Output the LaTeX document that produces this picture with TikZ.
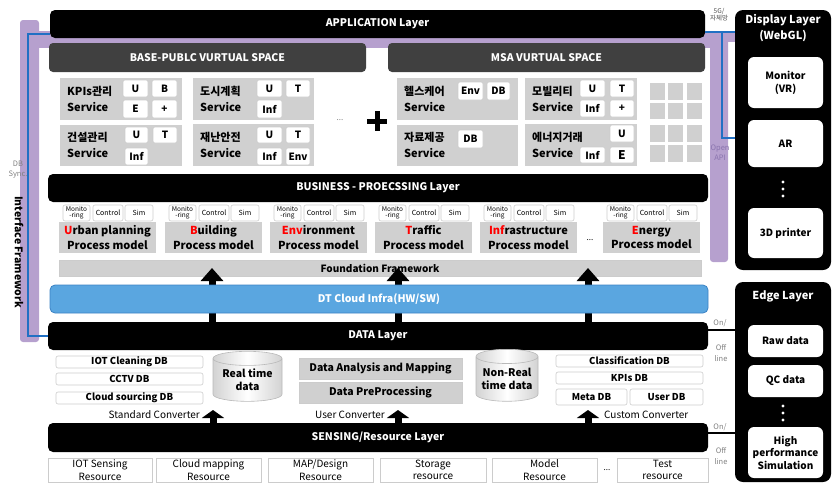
\documentclass[tikz,border=0pt]{standalone}
\usepackage{fontspec}
\setmainfont{Noto Sans CJK KR}
\usetikzlibrary{shapes.geometric,arrows.meta}

\definecolor{purp}{HTML}{B6A0CE}
\definecolor{hdr}{HTML}{404040}
\definecolor{lgrey}{HTML}{D0D0D0}
\definecolor{tagline}{HTML}{CCCCCC}
\definecolor{linkblue}{HTML}{2070C4}
\definecolor{cloudfill}{HTML}{5AA6E0}
\definecolor{cloudline}{HTML}{3B82C4}
\definecolor{apitext}{HTML}{8A74AE}

% box from (x1,y1) to (x2,y2), y grows downwards
\newcommand\bx[7][]{\node[inner sep=0pt, outer sep=0pt, anchor=north west,
  minimum width={(#4)-(#2)}, minimum height={(#5)-(#3)}, #1] (#6) at (#2,#3) {#7};}

\tikzset{
  layer/.style={fill=black, rounded corners=5pt, text=white, font=\bfseries\fontsize{10.5}{12}\selectfont},
  header/.style={fill=hdr, rounded corners=4pt, text=white, font=\bfseries\fontsize{10.5}{12}\selectfont},
  svc/.style={fill=lgrey},
  tag/.style={fill=white, draw=tagline, line width=0.6pt, rounded corners=2pt, font=\bfseries\fontsize{10}{11}\selectfont},
  svctext/.style={anchor=west, align=left, inner sep=0pt, font=\bfseries\fontsize{11}{16}\selectfont},
  ptag/.style={fill=white, draw=tagline, line width=0.6pt, rounded corners=2pt, font=\fontsize{6.5}{6}\selectfont, align=center},
  proc/.style={fill=lgrey, font=\bfseries\fontsize{11}{14.5}\selectfont, align=center},
  greybar/.style={fill=lgrey, draw=tagline, line width=0.6pt, font=\bfseries\fontsize{10}{12}\selectfont},
  dbbox/.style={fill=white, draw=tagline, line width=0.6pt, rounded corners=2pt, font=\bfseries\fontsize{9.5}{11}\selectfont},
  res/.style={fill=white, draw=tagline, line width=0.6pt, font=\fontsize{10}{12.5}\selectfont, align=center},
  sidebox/.style={fill=black, rounded corners=8pt},
  whitebox/.style={fill=white, rounded corners=6pt, font=\bfseries\fontsize{10}{13}\selectfont, align=center},
  store/.style={cylinder, shape border rotate=90, aspect=0.28, draw=gray!55, line width=0.6pt,
    left color=gray!35, right color=gray!35, middle color=white, inner sep=0pt,
    font=\bfseries\fontsize{10.5}{13}\selectfont, align=center},
  uparrow/.style={line width=7pt, -{Triangle[width=22pt,length=13pt]}},
  convarrow/.style={line width=7pt, -{Triangle[width=22pt,length=8pt]}},
  link/.style={draw=linkblue, line width=2pt},
  note/.style={font=\fontsize{7.5}{8.5}\selectfont, text=gray, align=center, inner sep=0pt},
  conv/.style={font=\fontsize{10}{12}\selectfont, inner sep=0pt},
}

\begin{document}
\begin{tikzpicture}[x=1pt,y=-1pt]
\useasboundingbox (0,0) rectangle (832,483);

% interface framework band (left, top and right)
\fill[purp, rounded corners=3pt] (20,20) rectangle (39,342);
\fill[purp] (20,31) rectangle (728,48);
\fill[purp, rounded corners=3pt] (710,31) rectangle (728,262);
\fill[purp] (710,32) rectangle (735,42);

% application layer and virtual spaces
\bx[layer]{50}{10}{705}{38}{app}{APPLICATION Layer}
\bx[header]{49}{43}{366}{72}{basehdr}{BASE-PUBLC VURTUAL SPACE}
\bx[header]{388}{43}{705}{72}{msahdr}{MSA VURTUAL SPACE}

% base-public services
\bx[svc]{60}{78}{182}{120}{kpi}{}
\node[svctext] (kpit) at (67,99) {KPIs관리\\Service};
\bx[tag]{123}{80}{148}{97}{kpiU}{U}
\bx[tag]{152}{80}{177}{97}{kpiB}{B}
\bx[tag]{123}{100}{148}{118}{kpiE}{E}
\bx[tag]{152}{100}{177}{118}{kpiP}{+}

\bx[svc]{60}{125}{182}{166}{con}{}
\node[svctext] (cont) at (67,145) {건설관리\\Service};
\bx[tag]{125}{127}{148}{143}{conU}{U}
\bx[tag]{153}{127}{177}{143}{conT}{T}
\bx[tag]{125}{148}{148}{165}{conI}{Inf}

\bx[svc]{193}{78}{314}{120}{urb}{}
\node[svctext] (urbt) at (200,99) {도시계획\\Service};
\bx[tag]{257}{80}{282}{97}{urbU}{U}
\bx[tag]{286}{80}{310}{97}{urbT}{T}
\bx[tag]{257}{100}{282}{118}{urbI}{Inf}

\bx[svc]{193}{124}{314}{166}{dis}{}
\node[svctext] (dist) at (200,145) {재난안전\\Service};
\bx[tag]{257}{127}{282}{143}{disU}{U}
\bx[tag]{286}{127}{310}{143}{disT}{T}
\bx[tag]{257}{148}{282}{165}{disI}{Inf}
\bx[tag]{286}{148}{310}{165}{disE}{Env}

\node[font=\fontsize{8}{8}\selectfont, text=gray] (svcdots) at (340,120) {...};
\fill (367,118.5) rectangle (387,123.5);
\fill (374.5,111) rectangle (379.5,131);

% MSA services
\bx[svc]{397}{78}{518}{120}{hea}{}
\node[svctext] (heat) at (404,99) {헬스케어\\Service};
\bx[tag]{458}{82}{483}{100}{heaE}{Env}
\bx[tag]{487}{82}{510}{100}{heaD}{DB}

\bx[svc]{397}{125}{518}{166}{dat}{}
\node[svctext] (datt) at (404,145) {자료제공\\Service};
\bx[tag]{458}{130}{483}{148}{datD}{DB}

\bx[svc]{525}{78}{637}{120}{mob}{}
\node[svctext] (mobt) at (532,99) {모빌리티\\Service};
\bx[tag]{580}{80}{605}{97}{mobU}{U}
\bx[tag]{610}{80}{634}{97}{mobT}{T}
\bx[tag]{580}{100}{605}{117}{mobI}{Inf}
\bx[tag]{610}{100}{634}{117}{mobP}{+}

\bx[svc]{525}{124}{637}{166}{ene}{}
\node[svctext] (enet) at (532,145) {에너지거래\\Service};
\bx[tag]{610}{125}{634}{142}{eneU}{U}
\bx[tag]{580}{147}{605}{163}{eneI}{Inf}
\bx[tag, font=\bfseries\fontsize{12}{12}\selectfont]{610}{147}{634}{163}{eneE}{E}

\foreach \gx in {650,668,687}
  \foreach \gy/\gh in {83/17,103/16,125/17,145/17}
    \fill[lgrey] (\gx,\gy) rectangle ++(15,\gh);

% business processing layer
\bx[layer]{48}{174}{708}{202}{biz}{BUSINESS - PROECSSING Layer}
\foreach \px/\pn/\pt in {59/urban/{\textcolor{red}{U}rban planning},
                         165/build/{\textcolor{red}{B}uilding},
                         270/envi/{\textcolor{red}{Env}ironment},
                         375/traf/{\textcolor{red}{T}raffic},
                         480/infra/{\textcolor{red}{Inf}rastructure},
                         603/energy/{\textcolor{red}{E}nergy}}{
  \bx[ptag]{\px+4}{205}{\px+31}{221}{\pn-mon}{Monito\\-ring}
  \bx[ptag, font=\fontsize{7}{8}\selectfont]{\px+34}{205}{\px+64}{221}{\pn-ctl}{Control}
  \bx[ptag, font=\fontsize{7}{8}\selectfont]{\px+66}{205}{\px+94}{221}{\pn-sim}{Sim}
  \bx[proc]{\px}{222}{\px+97}{253}{\pn}{\pt\\Process model}
}
\node[font=\fontsize{8}{8}\selectfont] (procdots) at (590,240) {...};

\bx[greybar]{59}{260}{701}{276}{found}{Foundation Framework}

% data layer feeds the foundation through the cloud infrastructure
\bx[layer]{48}{322}{708}{350}{dataL}{DATA Layer}
\foreach \ax in {212,398,588}
  \draw[uparrow] (dataL.north -| \ax,0) -- (found.center -| \ax,0);
\bx[fill=cloudfill, draw=cloudline, line width=0.8pt, rounded corners=5pt, text=white,
    font=\bfseries\fontsize{10.5}{12}\selectfont]{50}{285}{708}{313}{dt}{DT Cloud Infra(HW/SW)}

% interface framework links
\draw[link] (app.west |- 0,34) -- (28,34) -- (28,336) -- (dataL.west |- 0,336);

% data stores
\bx[dbbox]{56}{356}{203}{368}{iotdb}{IOT Cleaning DB}
\bx[dbbox]{56}{373}{203}{385}{cctvdb}{CCTV DB}
\bx[dbbox]{56}{392}{203}{404}{clouddb}{Cloud sourcing DB}
\node[store, minimum width=69, minimum height=50] (rt) at (247.5,380) {Real time\\data};
\bx[greybar, font=\bfseries\fontsize{10.5}{12}\selectfont]{299}{358}{462}{379}{ana}{Data Analysis and Mapping}
\bx[greybar, font=\bfseries\fontsize{10.5}{12}\selectfont]{299}{382}{462}{403}{pre}{Data PreProcessing}
\node[store, minimum width=62, minimum height=52] (nrt) at (507,379) {Non-Real\\time data};
\bx[dbbox]{556}{355}{703}{367}{clsdb}{Classification DB}
\bx[dbbox]{556}{372}{703}{384}{kpidb}{KPIs DB}
\bx[dbbox]{556}{389}{627}{405}{metadb}{Meta DB}
\bx[dbbox]{630}{389}{703}{405}{userdb}{User DB}

% sensing layer and converters
\bx[layer]{48}{423}{708}{452}{sens}{SENSING/Resource Layer}
\foreach \ax in {213,398,588}
  \draw[convarrow] (sens.north -| \ax,0) -- (\ax,410);
\node[conv, anchor=east] (stdconv) at (200,415) {Standard Converter};
\node[conv, anchor=east] (usrconv) at (385,415) {User Converter};
\node[conv, anchor=west] (cusconv) at (604,415) {Custom Converter};

% resources
\bx[res]{48}{458}{152}{482}{r1}{IOT Sensing\\Resource}
\bx[res]{156}{458}{261}{482}{r2}{Cloud mapping\\Resource}
\bx[res]{268}{458}{373}{482}{r3}{MAP/Design\\Resource}
\bx[res]{380}{458}{486}{482}{r4}{Storage\\resource}
\bx[res]{492}{458}{597}{482}{r5}{Model\\Resource}
\node[font=\fontsize{8}{8}\selectfont] (resdots) at (607,470) {...};
\bx[res]{617}{458}{708}{482}{r6}{Test\\resource}

% display layer
\bx[sidebox]{735}{10}{831}{270}{disp}{}
\node[text=white, font=\bfseries\fontsize{11}{16}\selectfont, align=center] (disptitle) at (783,28.5) {Display Layer\\(WebGL)};
\bx[whitebox]{748}{57}{823}{108}{mon}{Monitor\\(VR)}
\bx[whitebox]{748}{120}{823}{167}{ar}{AR}
\foreach \dy in {182,189,196} \fill[white] (783,\dy) circle (1.6);
\bx[whitebox]{748}{208}{823}{258}{printer}{3D printer}

% edge layer
\bx[sidebox]{735}{282}{831}{482}{edge}{}
\node[text=white, font=\bfseries\fontsize{11}{13}\selectfont] (edgetitle) at (783,296) {Edge Layer};
\bx[whitebox]{748}{325}{823}{357}{raw}{Raw data}
\bx[whitebox]{748}{365}{823}{397}{qc}{QC data}
\foreach \dy in {406,413,420} \fill[white] (783,\dy) circle (1.6);
\bx[whitebox, font=\bfseries\fontsize{10}{12.5}\selectfont]{748}{427}{823}{478}{hps}{High\\performance\\Simulation}

% links to the display layer
\draw[link] (app.east |- 0,32) -- (disp.west |- 0,32);
\draw[link] (722,32) -- (722,138) -- (disp.west |- 0,138);

% on/off line links to the edge layer
\draw[line width=1.5pt] (dataL.east |- 0,330) -- (edge.west |- 0,330);
\draw[line width=1.5pt] (sens.east |- 0,433) -- (edge.west |- 0,433);
\node[note] (on1) at (720,323) {On/};
\node[note, font=\fontsize{7.5}{11}\selectfont] (off1) at (721,353) {Off\\line};
\node[note] (on2) at (720,427) {On/};
\node[note, font=\fontsize{7.5}{11}\selectfont] (off2) at (721,456) {Off\\line};

% side notes
\node[note, text=black!70, font=\fontsize{6.5}{7}\selectfont] (net) at (719,15) {5G/\\자체망};
\node[note, text=apitext, font=\fontsize{7.5}{10}\selectfont] (api) at (720,153) {Open\\API};
\node[note, font=\fontsize{7.5}{10}\selectfont] (dbsync) at (18,170) {DB\\Sync.};
\node[rotate=-90, inner sep=0pt, font=\bfseries\fontsize{10.5}{12}\selectfont] (ifw) at (19,252) {Interface Framework};
\end{tikzpicture}
\end{document}
